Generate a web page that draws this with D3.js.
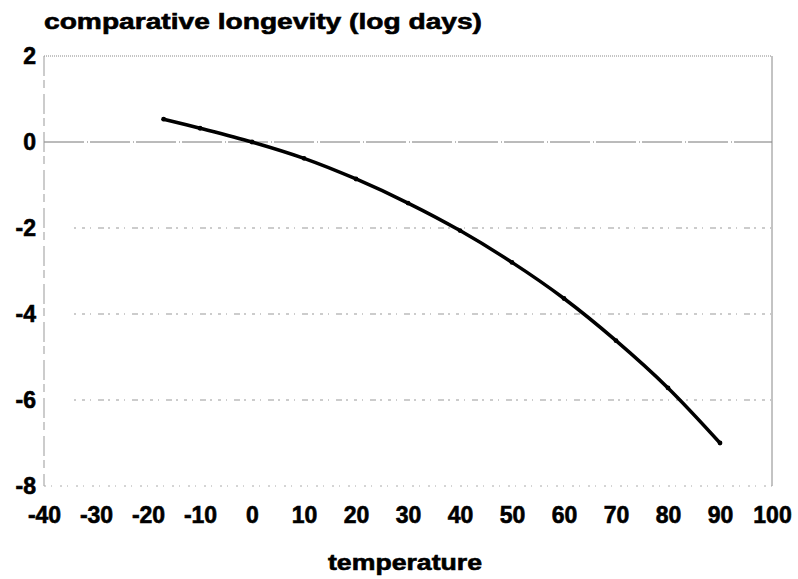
<!DOCTYPE html>
<html>
<head>
<meta charset="utf-8">
<script src="https://cdn.jsdelivr.net/npm/d3@7"></script>
<style>
  body { margin: 0; background: #fff; }
  text { font-family: "Liberation Sans", Arial, sans-serif; font-weight: bold; fill: #000; stroke: #000; stroke-width: 0.6px; }
</style>
</head>
<body>
<div id="chart"></div>
<script>
// temperature (x) vs comparative longevity in log days (y)
let temps = [-17, -10, 0, 10, 20, 30, 40, 50, 60, 70, 80, 90]
let longevity = [0.53, 0.32, 0, -0.38, -0.86, -1.42, -2.06, -2.8, -3.64, -4.62, -5.72, -7.0]

let xTicks = [-40, -30, -20, -10, 0, 10, 20, 30, 40, 50, 60, 70, 80, 90, 100]
let yTicks = [2, 0, -2, -4, -6, -8]
let gridValues = [-2, -4, -6]

let width = 798, height = 579
let plotLeft = 44, plotRight = 772, plotTop = 56, plotBottom = 486

let svg = d3.select("#chart")
  .append("svg")
  .attr("width", width)
  .attr("height", height)

let x = d3.scaleLinear().domain([-40, 100]).range([plotLeft, plotRight])
let y = d3.scaleLinear().domain([-8, 2]).range([plotBottom, plotTop])

// plain hyphen for negatives, as in the print
let fmt = d => String(d)

// faint gridlines like the scanned print
svg.selectAll(".grid")
  .data(gridValues)
  .enter()
  .append("line")
  .attr("class", "grid")
  .attr("x1", plotLeft + 30)
  .attr("x2", plotRight)
  .attr("y1", d => y(d))
  .attr("y2", d => y(d))
  .attr("stroke", "#999")
  .attr("stroke-width", 1)
  .attr("stroke-dasharray", "2,6,3,5,1,7,6,4")

// zero line
svg.append("line")
  .attr("x1", plotLeft).attr("x2", plotRight)
  .attr("y1", y(0)).attr("y2", y(0))
  .attr("stroke", "#777")
  .attr("stroke-dasharray", "40,3,1,2")

// plot frame
svg.append("line")
  .attr("x1", plotLeft).attr("x2", plotRight)
  .attr("y1", y(2)).attr("y2", y(2))
  .attr("stroke", "#888")
  .attr("stroke-dasharray", "1,1")
svg.append("line")
  .attr("x1", plotRight).attr("x2", plotRight)
  .attr("y1", y(2)).attr("y2", y(-8))
  .attr("stroke", "#888")
svg.append("line")
  .attr("x1", plotLeft).attr("x2", plotLeft)
  .attr("y1", y(2)).attr("y2", y(-8))
  .attr("stroke", "#999")
  .attr("stroke-dasharray", "20,4,8,6")
svg.append("line")
  .attr("x1", plotLeft).attr("x2", plotRight)
  .attr("y1", y(-8)).attr("y2", y(-8))
  .attr("stroke", "#aaa")
  .attr("stroke-dasharray", "2,5,1,8")

// axes, labels only
let xAxis = svg.append("g")
  .attr("transform", "translate(0," + plotBottom + ")")
  .call(d3.axisBottom(x).tickValues(xTicks).tickFormat(fmt).tickSize(0).tickPadding(0))
xAxis.select(".domain").remove()
xAxis.selectAll("text")
  .attr("y", 37)
  .attr("dy", null)
  .style("font-size", "23px")

let yAxis = svg.append("g")
  .attr("transform", "translate(" + plotLeft + ",0)")
  .call(d3.axisLeft(y).tickValues(yTicks).tickFormat(fmt).tickSize(0).tickPadding(8))
yAxis.select(".domain").remove()
yAxis.selectAll("text")
  .style("font-size", "23px")

// the curve
let line = d3.line()
  .x((d, i) => x(temps[i]))
  .y(d => y(d))
  .curve(d3.curveCatmullRom)

svg.append("path")
  .datum(longevity)
  .attr("d", line)
  .attr("fill", "none")
  .attr("stroke", "#000")
  .attr("stroke-width", 3.5)
  .attr("stroke-linecap", "round")

svg.selectAll(".pt")
  .data(longevity)
  .enter()
  .append("circle")
  .attr("class", "pt")
  .attr("cx", (d, i) => x(temps[i]))
  .attr("cy", d => y(d))
  .attr("r", 2.4)
  .attr("fill", "#000")

// titles
svg.append("text")
  .attr("x", plotLeft)
  .attr("y", 29)
  .attr("textLength", 438)
  .attr("lengthAdjust", "spacingAndGlyphs")
  .style("font-size", "22px")
  .text("comparative longevity (log days)")

svg.append("text")
  .attr("x", 328)
  .attr("y", 570)
  .attr("textLength", 154)
  .attr("lengthAdjust", "spacingAndGlyphs")
  .style("font-size", "22px")
  .text("temperature")
</script>
</body>
</html>
